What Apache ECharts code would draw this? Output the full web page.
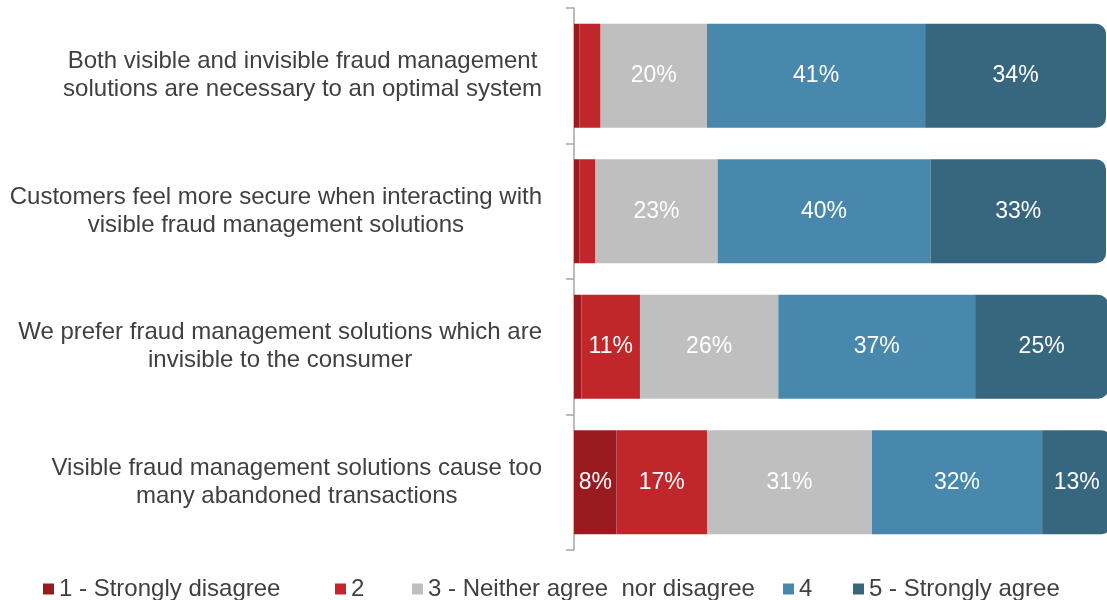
<!DOCTYPE html>
<html>
<head>
<meta charset="utf-8">
<script src="https://cdn.jsdelivr.net/npm/echarts@6/dist/echarts.min.js"></script>
<style>
    html,body{margin:0;padding:0;background:#fff;}
    #chart{width:1107px;height:600px;}
</style>
</head>
<body>
<div id="chart"></div>
<script>
    // statements, top to bottom
    var categories = [
        'Both visible and invisible fraud management\nsolutions are necessary to an optimal system',
        'Customers feel more secure when interacting with\nvisible fraud management solutions',
        'We prefer fraud management solutions which are\ninvisible to the consumer',
        'Visible fraud management solutions cause too\nmany abandoned transactions'
    ];
    var seriesNames = ['1 - Strongly disagree', '2', '3 - Neither agree  nor disagree', '4', '5 - Strongly agree'];
    var stronglyDisagree = [1, 1, 1.4, 8];
    var disagree = [4, 3, 11, 17];
    var neutral = [20, 23, 26, 31];
    var agree = [41, 40, 37, 32];
    var stronglyAgree = [34, 33, 25, 13];

    var colors = ['#9a1b1f', '#c0262a', '#bfbfbf', '#4888ad', '#37667f'];
    var legendLeft = [43, 335, 412, 783, 853];
    var values = [stronglyDisagree, disagree, neutral, agree, stronglyAgree];

    var chart = echarts.init(document.getElementById('chart'));

    var series = values.map(function (data, i) {
        return {
            name: seriesNames[i],
            type: 'bar',
            stack: 'total',
            barWidth: 104,
            clip: false,
            data: data,
            itemStyle: {
                color: colors[i],
                borderRadius: i === 4 ? [0, 10, 10, 0] : 0
            },
            label: {
                show: true,
                position: 'inside',
                color: '#ffffff',
                fontSize: 23,
                fontFamily: 'Liberation Sans',
                formatter: function (p) {
                    return p.value >= 5 ? Math.round(p.value) + '%' : '';
                }
            }
        };
    });

    var legends = seriesNames.map(function (name, i) {
        return {
            data: [name],
            left: legendLeft[i],
            top: 577,
            padding: 0,
            itemWidth: 11,
            itemHeight: 11,
            itemGap: 0,
            icon: 'rect',
            textStyle: {fontSize: 24, color: '#404040', fontFamily: 'Liberation Sans'}
        };
    });

    var option = {
        animation: false,
        grid: {left: 574, right: 1, top: 8, bottom: 50},
        legend: legends,
        xAxis: {
            type: 'value',
            min: 0,
            max: 100,
            show: false
        },
        yAxis: {
            type: 'category',
            inverse: true,
            data: categories,
            axisLine: {show: true, lineStyle: {color: '#a6a6a6', width: 1.5}},
            axisTick: {show: true, length: 8, lineStyle: {color: '#a6a6a6', width: 1.5}},
            axisLabel: {
                margin: 32,
                align: 'right',
                color: '#404040',
                fontSize: 24,
                fontFamily: 'Liberation Sans',
                lineHeight: 28,
                formatter: function (v) {
                    return v.split('\n').map(function (l) { return '{c|' + l + '}'; }).join('\n');
                },
                rich: {
                    c: {align: 'center', fontSize: 24, lineHeight: 28, color: '#404040', fontFamily: 'Liberation Sans'}
                }
            }
        },
        series: series
    };

    chart.setOption(option);
    window.addEventListener('resize', chart.resize);
</script>
</body>
</html>
